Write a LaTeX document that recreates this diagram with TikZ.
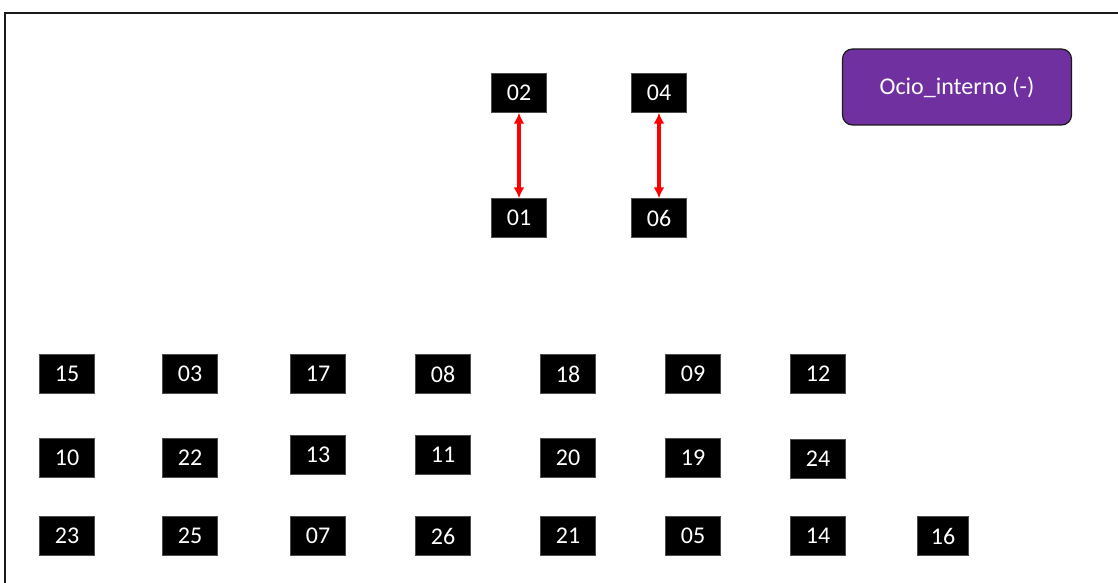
\documentclass[tikz,border=0pt]{standalone}
\usepackage{fontspec}
\setmainfont{Carlito}
\usepackage{xcolor}
\usetikzlibrary{arrows.meta,positioning}
\definecolor{purple}{HTML}{7030A0}
\definecolor{frame}{HTML}{1A1A1A}
\tikzset{
  box/.style={
    fill=black,draw=black!70,line width=.5pt,text=white,
    minimum width=55pt,minimum height=39pt,inner sep=0pt,
    font=\fontsize{24}{28}\selectfont
  },
  groupbox/.style={
    rounded corners=10pt,draw=frame,fill=purple,line width=1.2pt,
    minimum width=229pt,minimum height=76pt,text=white,
    font=\fontsize{24}{28}\selectfont
  },
  arrow/.style={{Latex[length=11pt,width=11pt]}-{Latex[length=11pt,width=11pt]},draw=red,line width=3.2pt}
}
\begin{document}
\begin{tikzpicture}[x=1pt,y=-1pt]
\useasboundingbox (0,0) rectangle (1118,583);
\clip (0,0) rectangle (1118,583);
\draw[frame,line width=2.2pt] (5,13) rectangle (1130,600);

\node[groupbox] (ocio) at (957,87) {Ocio\_interno (-)};

% pairs
\node[box] (n02) at (519,93) {02};
\node[box] (n01) at (519,218) {01};
\node[box] (n04) at (659,93) {04};
\node[box] (n06) at (659,218) {06};
\draw[arrow] (n02)--(n01);
\draw[arrow] (n04)--(n06);

% first row
\node[box] (n15) at (67,374) {15};
\node[box] (n03) at (190,374) {03};
\node[box] (n17) at (318,374) {17};
\node[box] (n08) at (443,374) {08};
\node[box] (n18) at (568,374) {18};
\node[box] (n09) at (693,374) {09};
\node[box] (n12) at (818,374) {12};

% second row
\node[box] (n10) at (67,458) {10};
\node[box] (n22) at (190,458) {22};
\node[box] (n13) at (318,455) {13};
\node[box] (n11) at (443,455) {11};
\node[box] (n20) at (568,458) {20};
\node[box] (n19) at (693,458) {19};
\node[box] (n24) at (818,459) {24};

% third row
\node[box] (n23) at (67,536) {23};
\node[box] (n25) at (190,536) {25};
\node[box] (n07) at (318,536) {07};
\node[box] (n26) at (443,536) {26};
\node[box] (n21) at (568,536) {21};
\node[box] (n05) at (693,536) {05};
\node[box] (n14) at (818,536) {14};
\node[box,minimum width=51pt] (n16) at (943,536) {16};
\end{tikzpicture}
\end{document}
